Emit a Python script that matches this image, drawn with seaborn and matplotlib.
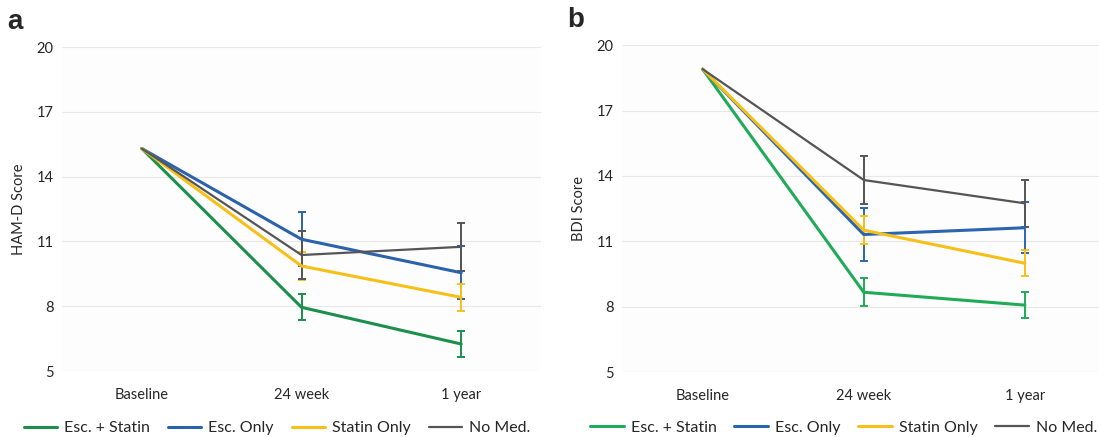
import numpy as np
import pandas as pd
import matplotlib
matplotlib.use("Agg")
import matplotlib.pyplot as plt
import seaborn as sns

sns.set_style("white")
plt.rcParams['font.family'] = ['Lato', 'DejaVu Sans']

timepoints = ['Baseline', '24 week', '1 year']
groups = ['Esc. + Statin', 'Esc. Only', 'Statin Only', 'No Med.']
colors_a = ['#1b8f4b', '#2a62ab', '#f7c019', '#555555']
colors_b = ['#21ab58', '#2a66b0', '#f7c019', '#555555']
yticks = [5, 8, 11, 14, 17, 20]

# panel a - HAM-D
hamd_mean = {
    'Esc. + Statin': [15.3, 7.95, 6.25],
    'Esc. Only': [15.3, 11.1, 9.55],
    'Statin Only': [15.3, 9.86, 8.41],
    'No Med.': [15.3, 10.37, 10.75],
}
hamd_err = {
    'Esc. + Statin': [0, 0.6, 0.6],
    'Esc. Only': [0, 1.25, 1.22],
    'Statin Only': [0, 0.66, 0.63],
    'No Med.': [0, 1.1, 1.1],
}

# panel b - BDI
bdi_mean = {
    'Esc. + Statin': [18.9, 8.66, 8.07],
    'Esc. Only': [18.9, 11.31, 11.62],
    'Statin Only': [18.9, 11.51, 9.99],
    'No Med.': [18.9, 13.81, 12.74],
}
bdi_err = {
    'Esc. + Statin': [0, 0.65, 0.61],
    'Esc. Only': [0, 1.2, 1.18],
    'Statin Only': [0, 0.65, 0.6],
    'No Med.': [0, 1.1, 1.08],
}


def tidy(means, errs):
    rows = []
    for g in groups:
        for i, t in enumerate(timepoints):
            rows.append({'group': g, 'pos': i, 'time': t,
                         'score': means[g][i], 'err': errs[g][i]})
    return pd.DataFrame(rows)


def panel(ax, df, ylabel, colors, xmax, leg_xy):
    ax.set_facecolor('#fdfdfe')
    for y in yticks:
        ax.axhline(y, color='#e8e8e8', lw=0.8, zorder=0)
    sns.lineplot(data=df, x='pos', y='score', hue='group', hue_order=groups,
                 palette=colors, estimator=None, ax=ax, legend=False, zorder=3)
    for line, g in zip(ax.get_lines()[len(yticks):], groups):
        line.set_linewidth(1.6 if g == 'No Med.' else 2.2)
    for g, c in zip(groups, colors):
        sub = df[(df.group == g) & (df.pos > 0)]
        ax.errorbar(sub.pos, sub.score, yerr=sub.err, fmt='none', ecolor=c,
                    elinewidth=1.4, capsize=3, capthick=1.4, zorder=2)
    ax.set_xlim(-0.5, xmax)
    ax.set_ylim(5, 20)
    ax.set_yticks(yticks)
    ax.set_xticks(range(len(timepoints)))
    ax.set_xticklabels(timepoints)
    ax.tick_params(axis='both', length=0, labelsize=10.5, pad=6)
    ax.tick_params(axis='x', pad=12)
    ax.set_xlabel('')
    ax.set_ylabel(ylabel, fontsize=10.5, labelpad=8)
    sns.despine(ax=ax, left=True, bottom=True, top=True, right=True)
    handles = [plt.Line2D([], [], color=c, lw=2.2 if g != 'No Med.' else 1.6)
               for g, c in zip(groups, colors)]
    ax.legend(handles, groups, loc='center', bbox_to_anchor=leg_xy,
              ncol=4, frameon=False, fontsize=11.5, handlelength=2.1,
              columnspacing=1.1, handletextpad=0.45, borderaxespad=0,
              borderpad=0)


fig = plt.figure(figsize=(10.99, 4.37), dpi=100)
fig.patch.set_facecolor('white')
ax1 = fig.add_axes([0.0564, 0.151, 0.4359, 0.7414])
ax2 = fig.add_axes([0.566, 0.1487, 0.434, 0.748])

panel(ax1, tidy(hamd_mean, hamd_err), 'HAM-D Score', colors_a, 2.5,
      (0.449, -0.176))
panel(ax2, tidy(bdi_mean, bdi_err), 'BDI Score', colors_b, 2.46,
      (0.465, -0.171))

fig.text(0.007, 0.95, 'a', fontsize=20, fontweight='bold', va='center',
         family='Liberation Sans')
fig.text(0.516, 0.955, 'b', fontsize=20, fontweight='bold', va='center',
         family='Liberation Sans')

fig.savefig('out.png', dpi=100)
